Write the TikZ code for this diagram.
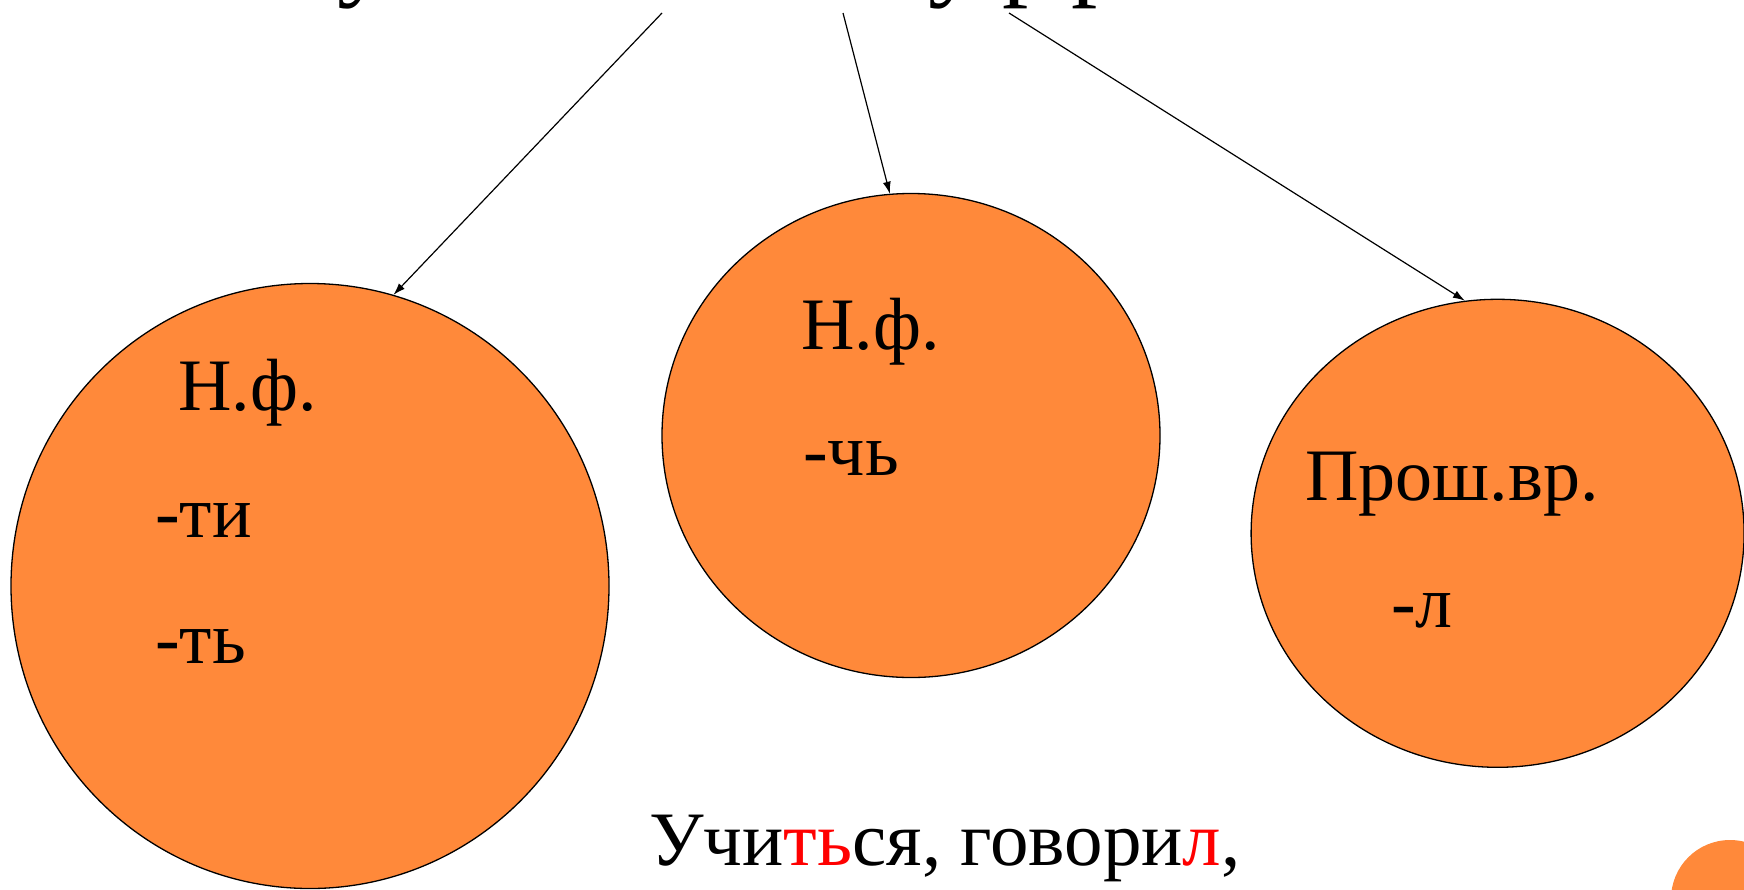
\documentclass[tikz,border=0pt]{standalone}
\usepackage{fontspec}
\setmainfont{Liberation Serif}
\usetikzlibrary{shapes.geometric,arrows.meta}
\definecolor{blobfill}{RGB}{255,137,58}
\tikzset{
  blob/.style={ellipse,draw,line width=1.3pt,fill=blobfill,inner sep=0pt},
  lbl/.style={anchor=base west,inner sep=0pt,font=\fontsize{74}{80}\selectfont},
  pointer/.style={-{Latex[length=12pt,width=8pt]},line width=1.2pt}
}
\begin{document}
\begin{tikzpicture}[x=1pt,y=-1pt]
    \useasboundingbox (0,0) rectangle (1744,889);
    \clip (0,0) rectangle (1744,889);
%    cut-off title, only its descenders show
    \node (t1) at (337,-14) [lbl,font=\fontsize{105}{110}\selectfont] {у};
    \node (t2) at (928,-14) [lbl,font=\fontsize{105}{110}\selectfont] {у};
    \node (t3) at (1002,-14) [lbl,font=\fontsize{105}{110}\selectfont] {р};
    \node (t4) at (1071,-14) [lbl,font=\fontsize{105}{110}\selectfont] {р};
    \coordinate (s1) at (662,13);
    \coordinate (s2) at (843,13);
    \coordinate (s3) at (1009,13);
    \node (leftc) at (310,586) [blob,minimum width=598pt,minimum height=605pt] {};
    \node (midc) at (911,435.5) [blob,minimum width=498pt,minimum height=484pt] {};
    \node (rightc) at (1497.6,533.3) [blob,minimum width=493pt,minimum height=468pt] {};
    \fill[blobfill] (1730,899) circle (59);
    \node (nf1) at (178,410) [lbl] {Н.ф.};
    \node (ti) at (155,537) [lbl] {-ти};
    \node (tsoft) at (155,663) [lbl] {-ть};
    \node (nf2) at (801,349) [lbl] {Н.ф.};
    \node (chsoft) at (803,475) [lbl] {-чь};
    \node (past) at (1305,500) [lbl] {Прош.вр.};
    \node (el) at (1391,627) [lbl] {-л};
    \node (ex) at (649,865) [lbl,font=\fontsize{77}{83}\selectfont] {Учи\textcolor{red}{ть}ся, говори\textcolor{red}{л},};
    \draw[pointer] (s1) -- (leftc.74);
    \draw[pointer] (s2) -- (midc.95);
    \draw[pointer] (s3) -- (rightc.98.5);
\end{tikzpicture}
\end{document}
